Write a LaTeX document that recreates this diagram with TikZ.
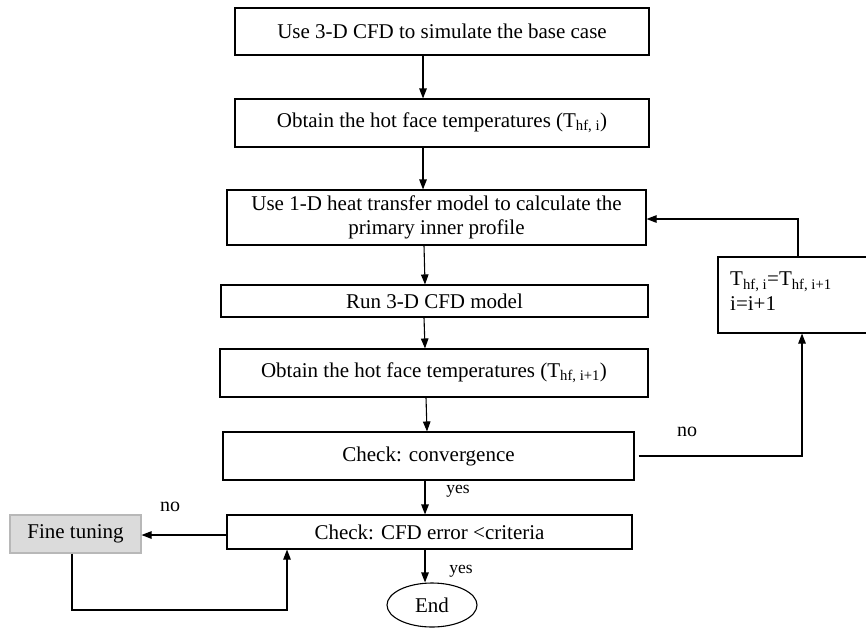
\documentclass[tikz,border=0pt]{standalone}
\usepackage{fontspec}
\setmainfont{Liberation Serif}
\usetikzlibrary{arrows.meta,shapes.geometric,calc}
\tikzset{
  box/.style={draw, line width=1.1pt, rectangle, inner sep=0pt, align=center, font=\fontsize{21}{24}\selectfont},
  arr/.style={line width=1.1pt, -{Triangle[length=10pt,width=7.5pt]}},
  lbl/.style={inner sep=0pt, font=\fontsize{20}{22}\selectfont},
  lbls/.style={inner sep=0pt, font=\fontsize{17.5}{19}\selectfont}
}
\begin{document}
\begin{tikzpicture}[x=1pt,y=-1pt]
\useasboundingbox (0,0) rectangle (866,627);
\node[box, minimum width=414pt, minimum height=47pt] (b1) at (442,31.5) {Use 3-D CFD to simulate the base case};
\node[box, minimum width=414pt, minimum height=48pt] (b2) at (442,123) {Obtain the hot face temperatures (T\textsubscript{hf, i})};
\node[box, minimum width=419pt, minimum height=55pt] (b3) at (436.5,217.5) {Use 1-D heat transfer model to calculate the\\primary inner profile};
\node[box, minimum width=427pt, minimum height=32pt] (b4) at (434.5,301) {Run 3-D CFD model};
\node[box, minimum width=428pt, minimum height=48pt] (b5) at (434,373) {Obtain the hot face temperatures (T\textsubscript{hf, i+1})};
\node[box, minimum width=411pt, minimum height=48pt] (b6) at (428.5,456) {Check: convergence};
\node[box, minimum width=405pt, minimum height=34pt] (b7) at (429.5,532) {Check: CFD error {\textless}criteria};
\node[box, draw=black!28, fill=black!14, minimum width=131pt, minimum height=38pt] (ft) at (75.5,534) {Fine tuning};
\node[box, minimum width=160pt, minimum height=76pt] (b8) at (798,295) {};
\node[inner sep=0pt, anchor=north west, align=left, font=\fontsize{21}{25}\selectfont] (b8t) at (730,272) {T\textsubscript{hf, i}=T\textsubscript{hf, i+1}\\i=i+1};
\node[draw, ellipse, line width=1.1pt, minimum width=90pt, minimum height=44pt, inner sep=0pt, font=\fontsize{21}{24}\selectfont] (end) at (432,605) {End};

\draw[arr] (423,0 |- b1.south) -- (423,0 |- b2.north);
\draw[arr] (423,0 |- b2.south) -- (423,0 |- b3.north);
\draw[arr] (424,0 |- b3.south) -- (425,0 |- b4.north);
\draw[arr] (424,0 |- b4.south) -- (425,0 |- b5.north);
\draw[arr] (426,0 |- b5.south) -- (427,0 |- b6.north);
\draw[arr] (425,0 |- b6.south) -- (425,0 |- b7.north);
\draw[arr] (425,0 |- b7.south) -- (425,0 |- end.north);

\coordinate (r1) at (802,456);
\draw[arr] ([xshift=4pt]b6.east) -- (r1) -- (802,0 |- b8.south);
\coordinate (r2) at (798,219);
\draw[arr] (798,0 |- b8.north) -- (r2) -- (b3.east |- r2);

\draw[arr] (b7.west |- 0,535) -- (ft.east |- 0,535);
\coordinate (f1) at (72,610);
\coordinate (f2) at (287,610);
\draw[arr] (72,0 |- ft.south) -- (f1) -- (f2) -- (287,0 |- b7.south);

\node[lbl] (no1) at (687,432) {no};
\node[lbl] (no2) at (170,507) {no};
\node[lbls] (yes1) at (458,491) {yes};
\node[lbls] (yes2) at (461,571) {yes};
\end{tikzpicture}
\end{document}
